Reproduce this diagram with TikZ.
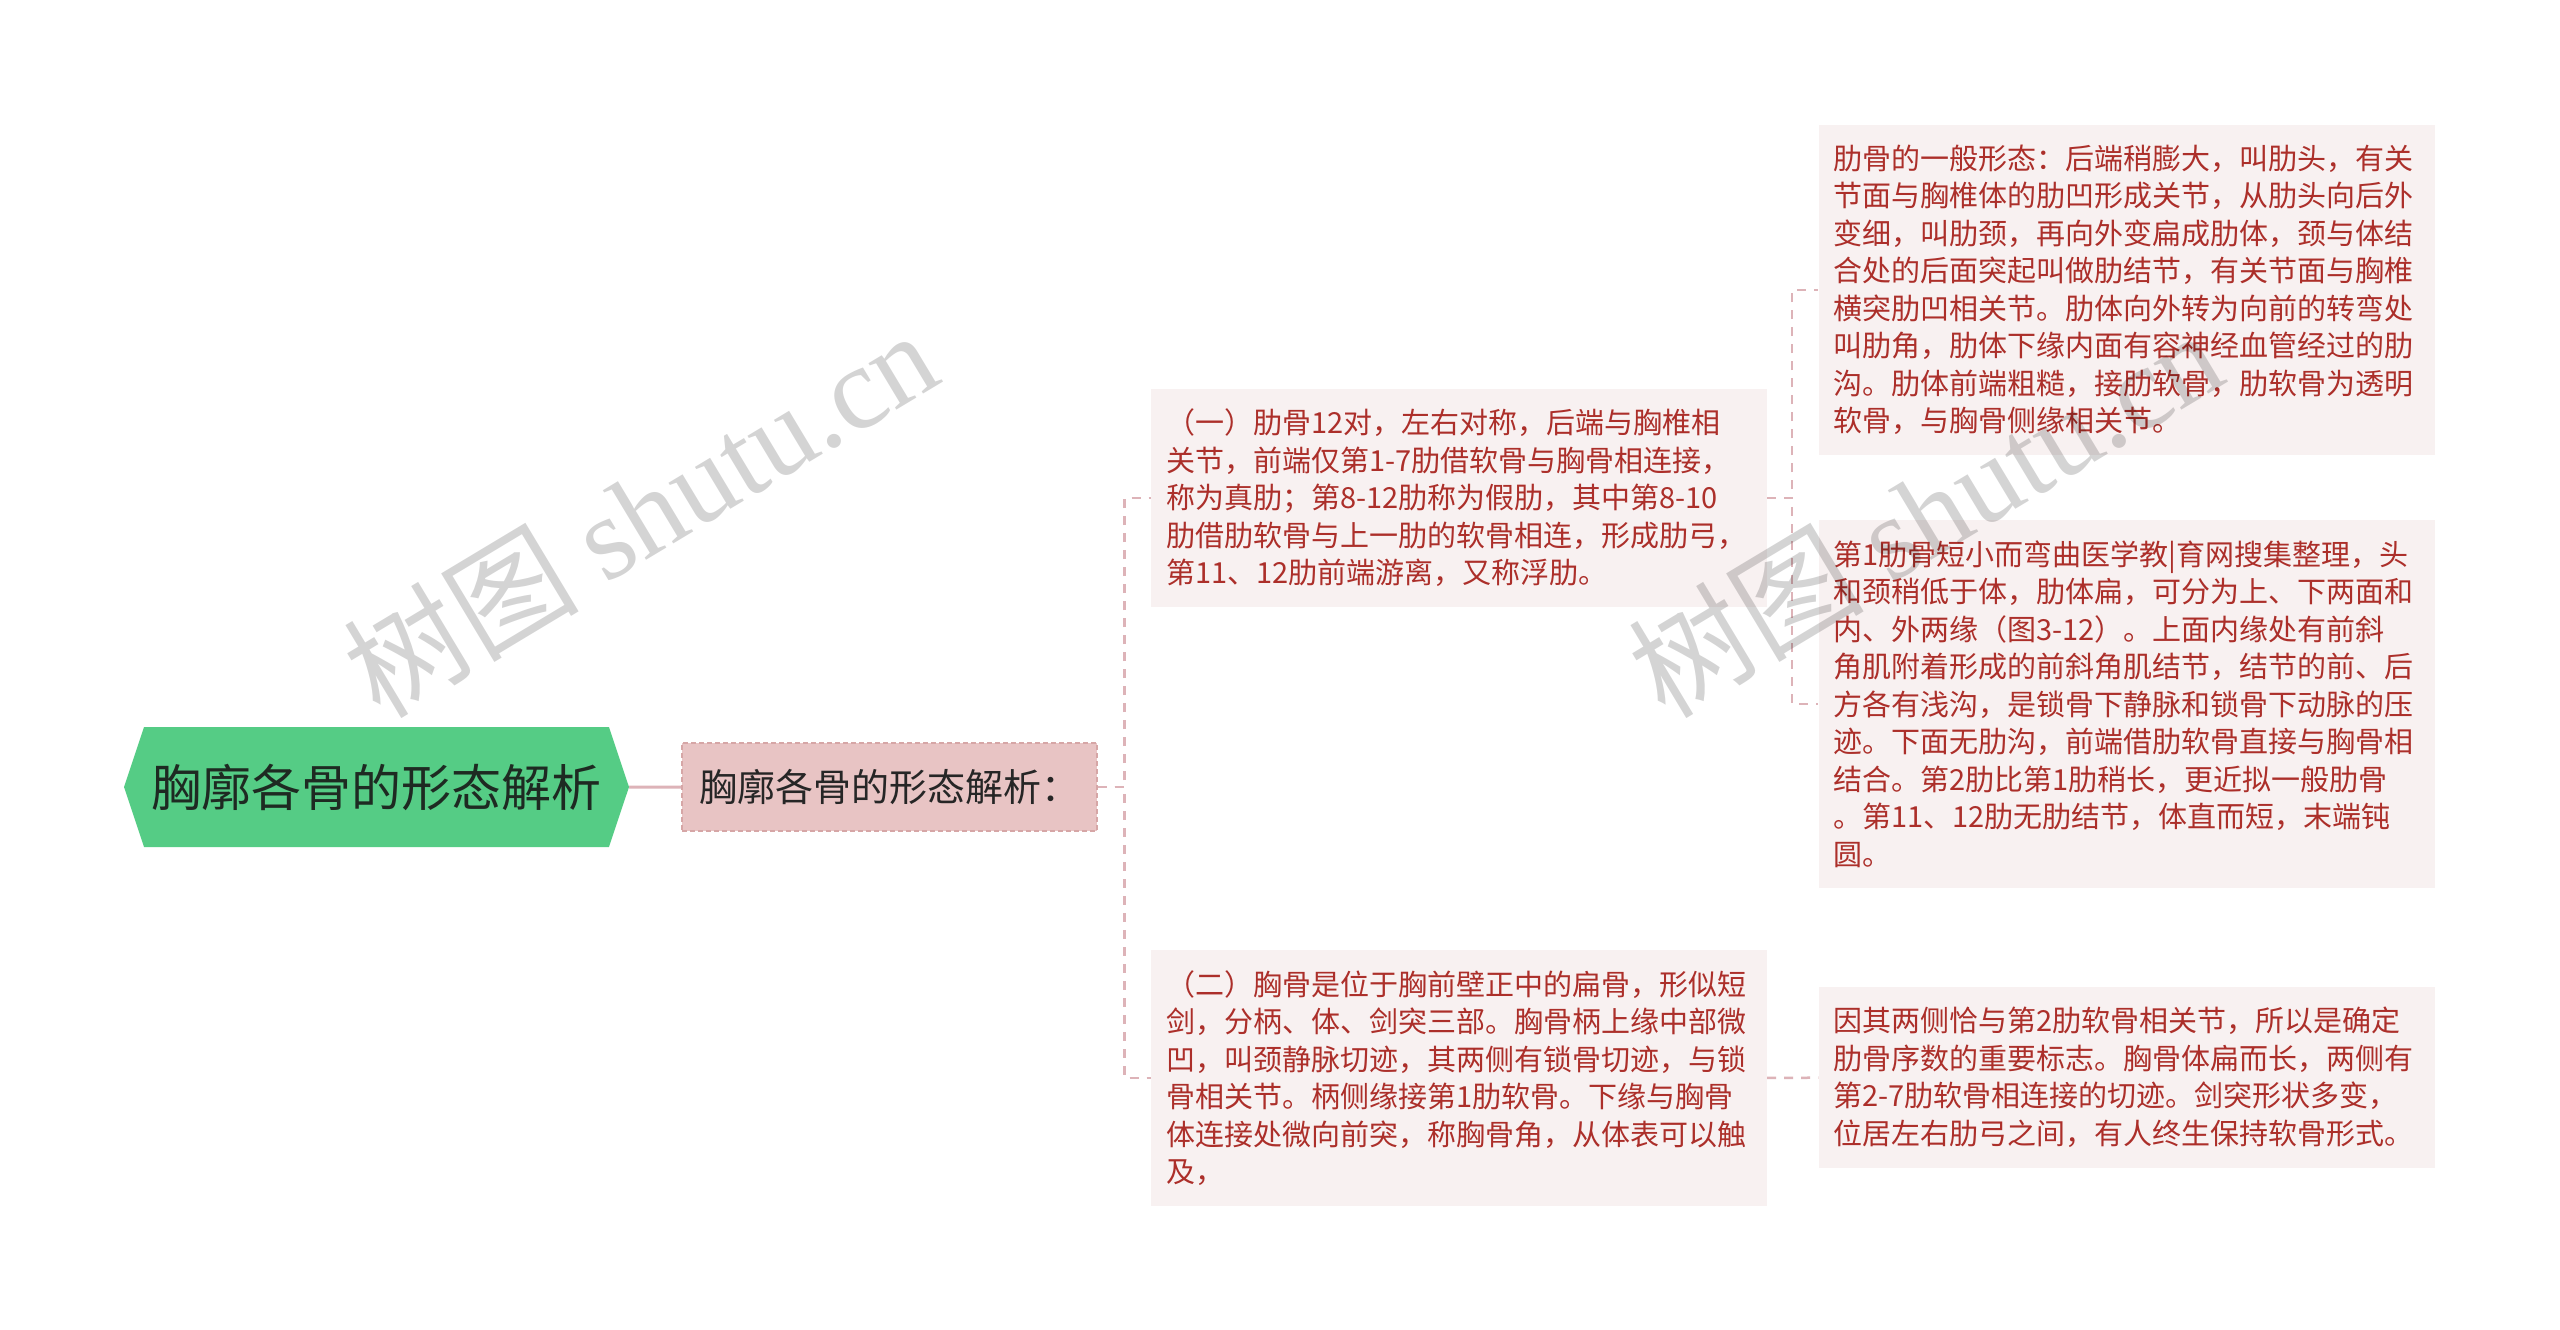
\documentclass[tikz,border=0pt]{standalone}
\usepackage{fontspec}
\setmainfont{Noto Sans CJK SC}
\newfontfamily\markSerif{Liberation Serif}
\usepackage{xcolor}
\definecolor{rootGreen}{HTML}{55CC85}
\definecolor{rootText}{HTML}{1E2A22}
\definecolor{subFill}{HTML}{E8C4C4}
\definecolor{subLine}{HTML}{D6A6A6}
\definecolor{leafFill}{HTML}{F8F1F1}
\definecolor{leafText}{HTML}{AC2F2A}
\definecolor{linkPink}{HTML}{DDB3B8}
\usepackage{tikz}
\usetikzlibrary{shapes,positioning,calc}
\tikzset{%
  rootHex/.style={%
    signal,
    signal to=west and east,
    signal pointer angle=143,
    fill=rootGreen,
    draw=none,
    minimum width=505pt,
    minimum height=120pt,
    inner sep=0pt,
    text=rootText,
    font=\fontsize{50pt}{60pt}\selectfont
  },
  subBox/.style={%
    rectangle,
    fill=subFill,
    draw=subLine,
    line width=1.5pt,
    dash pattern=on 5pt off 3pt,
    minimum width=415pt,
    minimum height=88pt,
    inner sep=0pt,
    text=black!85,
    font=\fontsize{38pt}{46pt}\selectfont
  },
  leafBox/.style={%
    rectangle,
    fill=leafFill,
    draw=none,
    text width=586pt,
    inner xsep=15pt,
    inner ysep=0pt,
    minimum height=#1,
    align=left,
    text=leafText,
    font=\fontsize{29pt}{37.5pt}\selectfont
  },
  linkSolid/.style={%
    draw=linkPink,
    line width=3pt
  },
  linkDash/.style={%
    draw=linkPink,
    line width=2.5pt,
    dash pattern=on 9pt off 8pt
  },
  waterMark/.style={%
    rotate=31,
    text=black,
    text opacity=0.17,
    font=\fontsize{118pt}{118pt}\selectfont
  }
}

\begin{document}
\begin{tikzpicture}[x=1pt, y=-1pt]
  \fill[white] (0,0) rectangle (2560,1330);
  \useasboundingbox (0,0) rectangle (2560,1330);

  % root and first level
  \node[rootHex] (root) at (376.5,787) {胸廓各骨的形态解析};
  \node[subBox, right=52pt of root] (sub) {胸廓各骨的形态解析：};

  % second level
  \node[leafBox=218pt] (ribs) at (1459,498) {（一）肋骨12对，左右对称，后端与胸椎相\\关节，前端仅第1-7肋借软骨与胸骨相连接，\\称为真肋；第8-12肋称为假肋，其中第8-10\\肋借肋软骨与上一肋的软骨相连，形成肋弓，\\第11、12肋前端游离，又称浮肋。};
  \node[leafBox=256pt] (sternum) at (1459,1078) {（二）胸骨是位于胸前壁正中的扁骨，形似短\\剑，分柄、体、剑突三部。胸骨柄上缘中部微\\凹，叫颈静脉切迹，其两侧有锁骨切迹，与锁\\骨相关节。柄侧缘接第1肋软骨。下缘与胸骨\\体连接处微向前突，称胸骨角，从体表可以触\\及，};

  % third level
  \node[leafBox=330pt] (ribShape) at (2126.5,290) {肋骨的一般形态：后端稍膨大，叫肋头，有关\\节面与胸椎体的肋凹形成关节，从肋头向后外\\变细，叫肋颈，再向外变扁成肋体，颈与体结\\合处的后面突起叫做肋结节，有关节面与胸椎\\横突肋凹相关节。肋体向外转为向前的转弯处\\叫肋角，肋体下缘内面有容神经血管经过的肋\\沟。肋体前端粗糙，接肋软骨，肋软骨为透明\\软骨，与胸骨侧缘相关节。};
  \node[leafBox=368pt] (firstRib) at (2126.5,704) {第1肋骨短小而弯曲医学教|育网搜集整理，头\\和颈稍低于体，肋体扁，可分为上、下两面和\\内、外两缘（图3-12）。上面内缘处有前斜\\角肌附着形成的前斜角肌结节，结节的前、后\\方各有浅沟，是锁骨下静脉和锁骨下动脉的压\\迹。下面无肋沟，前端借肋软骨直接与胸骨相\\结合。第2肋比第1肋稍长，更近拟一般肋骨\\。第11、12肋无肋结节，体直而短，末端钝\\圆。};
  \node[leafBox=181pt] (sternumBody) at (2126.5,1077.5) {因其两侧恰与第2肋软骨相关节，所以是确定\\肋骨序数的重要标志。胸骨体扁而长，两侧有\\第2-7肋软骨相连接的切迹。剑突形状多变，\\位居左右肋弓之间，有人终生保持软骨形式。};

  % connectors
  \draw[linkSolid] (root) -- (sub);
  \draw[linkDash] (sub.east) -- ++(27,0) |- (ribs.west);
  \draw[linkDash] (sub.east) -- ++(27,0) |- (sternum.west);
  \draw[linkDash] (ribs.east) -- ++(25,0) |- (ribShape.west);
  \draw[linkDash] (ribs.east) -- ++(25,0) |- (firstRib.west);
  \draw[linkDash] (sternum) -- (sternumBody);

  % watermarks
  \node[waterMark] (mark1) at (640,512) {树图 {\markSerif shutu.cn}};
  \node[waterMark] (mark2) at (1925,512) {树图 {\markSerif shutu.cn}};
\end{tikzpicture}
\end{document}
